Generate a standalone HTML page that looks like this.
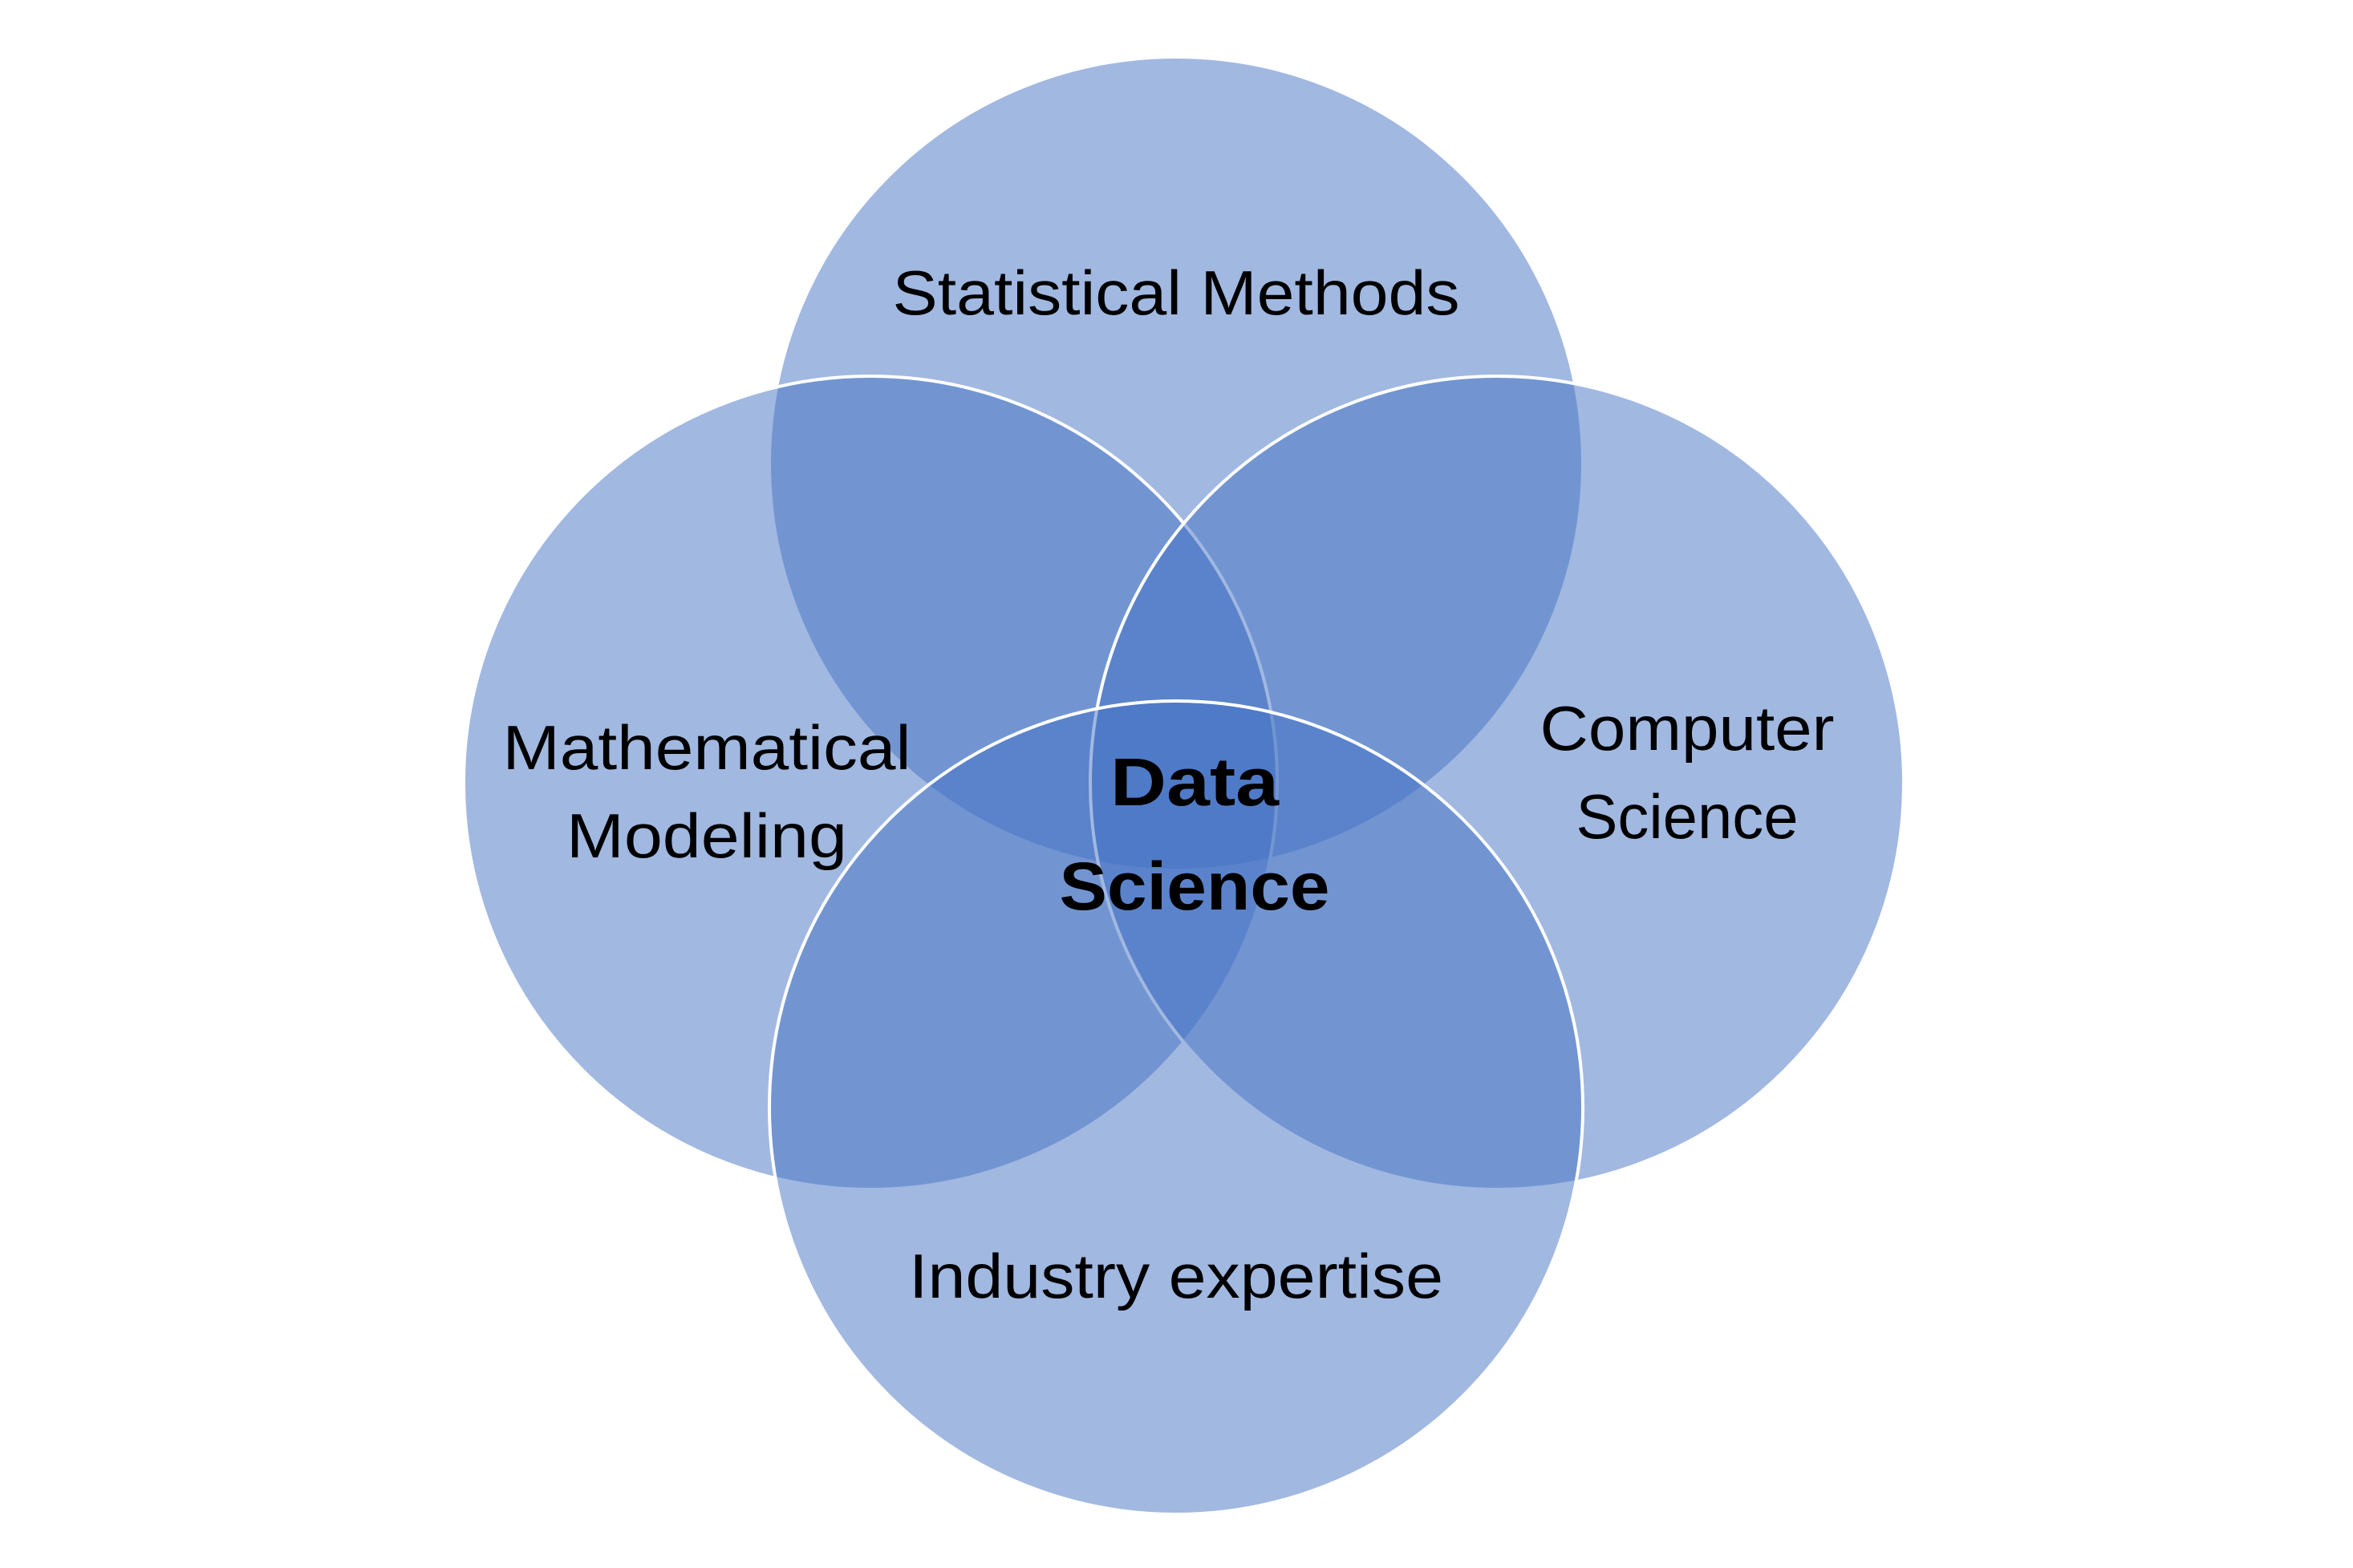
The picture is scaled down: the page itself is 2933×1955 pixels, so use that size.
<!DOCTYPE html>
<html><head><style>html,body{margin:0;padding:0;background:#fff;}svg{display:block}</style></head>
<body>
<svg width="2933" height="1955" viewBox="0 0 2933 1955" xmlns="http://www.w3.org/2000/svg">
<rect width="2933" height="1955" fill="#fff"/>
<g fill="#4472C4" fill-opacity="0.5" stroke="#fff" stroke-width="4">
<circle cx="1466" cy="578" r="507"/>
<circle cx="1085" cy="976" r="507"/>
<circle cx="1866" cy="976" r="507"/>
<circle cx="1466" cy="1381" r="507"/>
</g>
<g font-family="'Liberation Sans', sans-serif" font-size="78" fill="#000" text-anchor="middle" lengthAdjust="spacingAndGlyphs">
<text x="1466" y="392" textLength="707" lengthAdjust="spacingAndGlyphs">Statistical Methods</text>
<text x="881" y="959" textLength="509" lengthAdjust="spacingAndGlyphs">Mathematical</text>
<text x="881" y="1069" textLength="350" lengthAdjust="spacingAndGlyphs">Modeling</text>
<text x="2103" y="935" textLength="367" lengthAdjust="spacingAndGlyphs">Computer</text>
<text x="2103" y="1045" textLength="277" lengthAdjust="spacingAndGlyphs">Science</text>
<text x="1466" y="1618" textLength="666" lengthAdjust="spacingAndGlyphs">Industry expertise</text>
<text x="1489" y="1004" font-weight="bold" font-size="84" textLength="210" lengthAdjust="spacingAndGlyphs">Data</text>
<text x="1489" y="1134" font-weight="bold" font-size="84" textLength="337" lengthAdjust="spacingAndGlyphs">Science</text>
</g>
</svg>
</body></html>
